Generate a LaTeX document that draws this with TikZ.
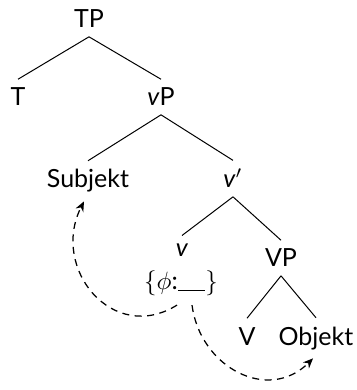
\documentclass[tikz,border=0pt]{standalone}
\usepackage{fontspec}
\setmainfont{Lato}
\usetikzlibrary{arrows.meta,positioning}

\begin{document}
\begin{tikzpicture}[x=0.4pt,y=-0.4pt]
	\tikzstyle{every node}=[font=\normalsize, anchor=base]
	\tikzstyle{move}=[line width=0.5pt, dash pattern=on 2.8pt off 2.2pt, ->, >={Stealth[length=4pt,width=3.4pt]}]
	\useasboundingbox (0,0) rectangle (356,390);
	% nodes of the tree
	\node (tp) at (89,28) {TP};
	\node (t) at (18,106) {T};
	\node (vp) at (161,106) {\textit{v}P};
	\node (subj) at (88,188) {Subjekt};
	\node (vbar) at (233,188) {\textit{v}$'$};
	\node (v) at (182,257) {\textit{v}};
	\node (feat) at (181,290) {$\{\phi$:\rule[-0.5pt]{11pt}{0.4pt}$\}$};
	\node (bigvp) at (281,267) {VP};
	\node (verb) at (247,345) {V};
	\node (obj) at (316,345) {Objekt};
	% branches
	\draw (tp.south) -- (t.north);
	\draw (tp.south) -- (vp.north);
	\draw (vp.south) -- (subj.north);
	\draw (vp.south) -- (vbar.north);
	\draw (vbar.south) -- (v.north);
	\draw (vbar.south) -- (bigvp.north);
	\draw (bigvp.south) -- (verb.north);
	\draw (bigvp.south) -- (obj.north);
	% feature arrows
	\draw [move] ([xshift=-1.6pt]feat.south) .. controls +(-64,40) and +(-34,67) .. ([xshift=-1.6pt]subj.south);
	\draw [move] ([xshift=4.4pt]feat.south) .. controls +(8,62) and +(-45,45) .. ([xshift=-1.2pt]obj.south);
\end{tikzpicture}
\end{document}
